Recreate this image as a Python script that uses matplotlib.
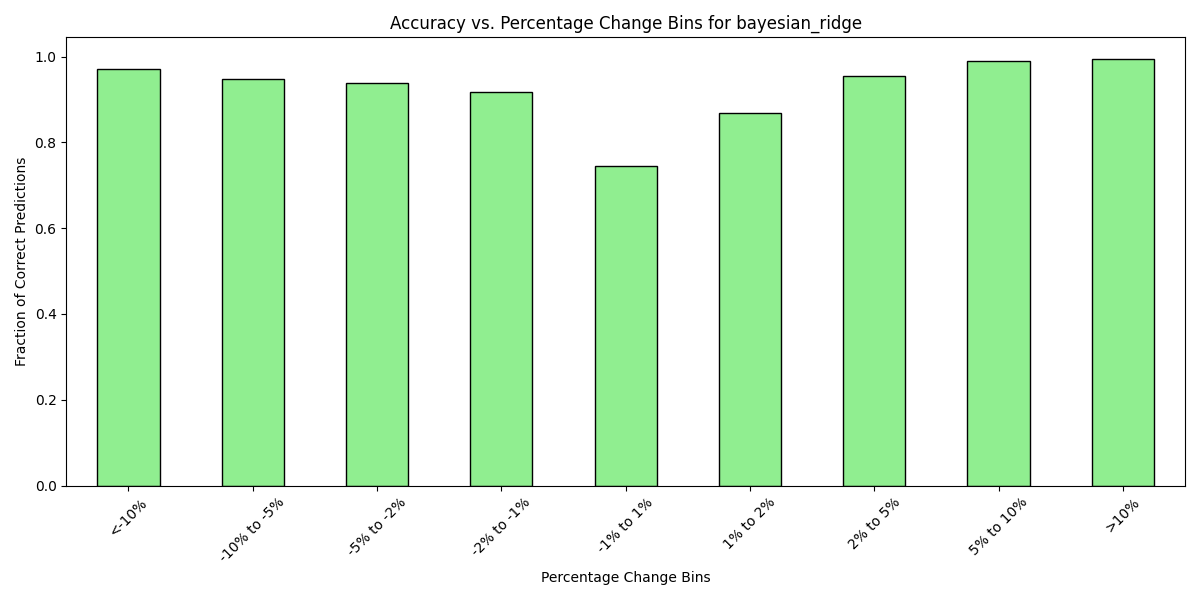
import matplotlib
matplotlib.use("Agg")
import matplotlib.pyplot as plt

bins = ["<-10%", "-10% to -5%", "-5% to -2%", "-2% to -1%", "-1% to 1%",
        "1% to 2%", "2% to 5%", "5% to 10%", ">10%"]
accuracy = [0.972, 0.948, 0.939, 0.918, 0.746, 0.869, 0.955, 0.990, 0.995]

fig, ax = plt.subplots(figsize=(12, 6), dpi=100)
x = range(len(bins))
ax.bar(x, accuracy, width=0.5, color="lightgreen", edgecolor="black")
ax.set_xticks(list(x))
ax.set_xticklabels(bins, rotation=45)
ax.set_xlim(-0.5, len(bins) - 0.5)
ax.set_title("Accuracy vs. Percentage Change Bins for bayesian_ridge")
ax.set_xlabel("Percentage Change Bins")
ax.set_ylabel("Fraction of Correct Predictions")
fig.tight_layout()
fig.savefig("out.png")
